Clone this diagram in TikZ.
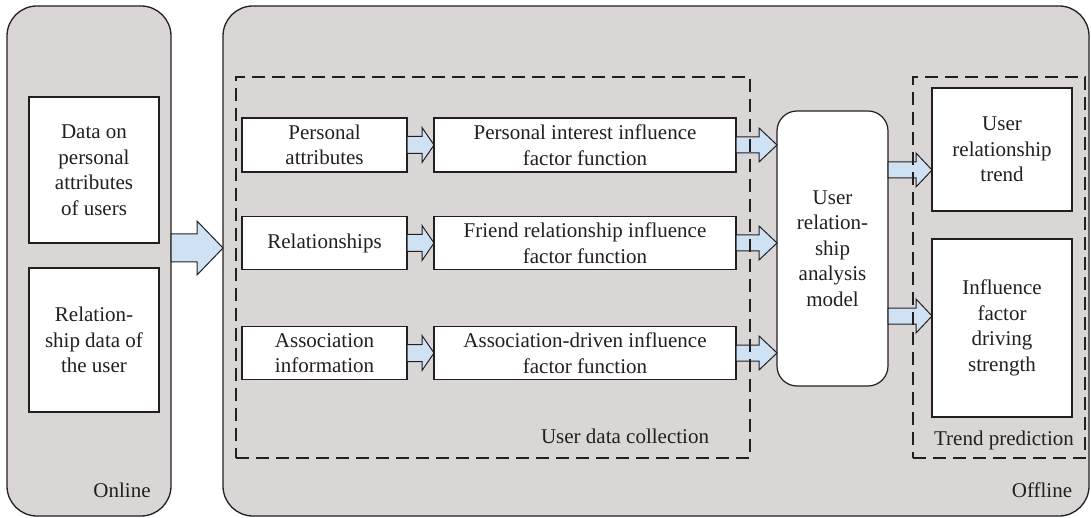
\documentclass[tikz,border=0pt]{standalone}
\usepackage{fontspec}
\setmainfont{Liberation Serif}
\usetikzlibrary{calc}
\definecolor{panelgray}{HTML}{D9D6D5}
\definecolor{flowblue}{HTML}{CFE2F3}
\definecolor{ink}{HTML}{231F20}
\tikzset{
  panel/.style={draw=ink, fill=panelgray, line width=1.3pt, rounded corners=30pt,
    inner sep=0pt, outer sep=0pt},
  box/.style={draw=ink, fill=white, line width=1.2pt, inner sep=0pt, outer sep=0pt,
    align=center},
  group/.style={draw=ink, line width=1.2pt, dash pattern=on 13pt off 7pt,
    inner sep=0pt, outer sep=0pt},
  tag/.style={inner sep=0pt},
  % block arrow drawn between two points: shaft half-width, head half-width, head length
  fat/.style n args={3}{draw=ink, fill=flowblue, line width=1pt, line join=miter,
    to path={let \p1=(\tikztostart), \p2=(\tikztotarget) in
      (\x1,\y1+#1) -- (\x2-#3,\y1+#1) -- (\x2-#3,\y1+#2) -- (\x2,\y1)
      -- (\x2-#3,\y1-#2) -- (\x2-#3,\y1-#1) -- (\x1,\y1-#1) -- cycle}},
}
\begin{document}
\begin{tikzpicture}[x=1pt, y=-1pt, font=\fontsize{21}{25.5}\selectfont, text=ink]
\useasboundingbox (0,0) rectangle (1091,518);

% outer panels
\node[panel, minimum width=164pt, minimum height=510pt] (online) at (89,261) {};
\node[panel, minimum width=866pt, minimum height=510pt] (offline) at (656,261) {};

% online data
\node[box, minimum width=130pt, minimum height=146pt] (d1) at (94,170)
  {Data on\\personal\\attributes\\of users};
\node[box, minimum width=130pt, minimum height=144pt] (d2) at (94,340)
  {Relation-\\ship data of\\the user};

% data collection inputs
\node[box, minimum width=165pt, minimum height=54pt] (pa) at (324.5,145) {Personal\\attributes};
\node[box, minimum width=165pt, minimum height=53pt] (re) at (324.5,243) {Relationships};
\node[box, minimum width=165pt, minimum height=53pt] (ai) at (324.5,353) {Association\\information};

% influence factor functions
\node[box, minimum width=302pt, minimum height=54pt] (pf) at (585,145)
  {Personal interest influence\\factor function};
\node[box, minimum width=302pt, minimum height=53pt] (ff) at (585,243)
  {Friend relationship influence\\factor function};
\node[box, minimum width=302pt, minimum height=53pt] (af) at (585,353)
  {Association-driven influence\\factor function};

% analysis model
\node[box, rounded corners=20pt, minimum width=111pt, minimum height=275pt] (model)
  at (832.5,248.5) {User\\relation-\\ship\\analysis\\model};

% prediction outputs
\node[box, minimum width=140pt, minimum height=123pt] (t1) at (1002,149.5)
  {User\\relationship\\trend};
\node[box, minimum width=140pt, minimum height=178pt] (t2) at (1002,328)
  {Influence\\factor\\driving\\strength};

% flow arrows
\draw[fat={14pt}{27pt}{26pt}] (online.east |- 0,248) to (offline.west |- 0,248);
\draw[fat={8.5pt}{17.5pt}{12pt}] (pa.east) to (pf.west);
\draw[fat={8.5pt}{17.5pt}{12pt}] (re.east) to (ff.west);
\draw[fat={8.5pt}{17.5pt}{12pt}] (ai.east) to (af.west);
\draw[fat={8pt}{17pt}{18pt}] (pf.east) to (model.west |- pf.east);
\draw[fat={8pt}{17pt}{18pt}] (ff.east) to (model.west |- ff.east);
\draw[fat={8pt}{17pt}{18pt}] (af.east) to (model.west |- af.east);
\draw[fat={8pt}{17pt}{16pt}] (model.east |- 0,170) to (t1.west |- 0,170);
\draw[fat={8pt}{17pt}{16pt}] (model.east |- 0,316) to (t2.west |- 0,316);

% dashed stage groups
\node[group, minimum width=514pt, minimum height=381pt] (udc) at (493,267.5) {};
\node[group, minimum width=172pt, minimum height=381pt] (tp) at (999,267.5) {};

% labels
\node[tag] (lon) at (122,490) {Online};
\node[tag] (loff) at (1042,490) {Offline};
\node[tag] (ludc) at (625,436) {User data collection};
\node[tag] (ltp) at (1004,440) {Trend prediction};
\end{tikzpicture}
\end{document}
